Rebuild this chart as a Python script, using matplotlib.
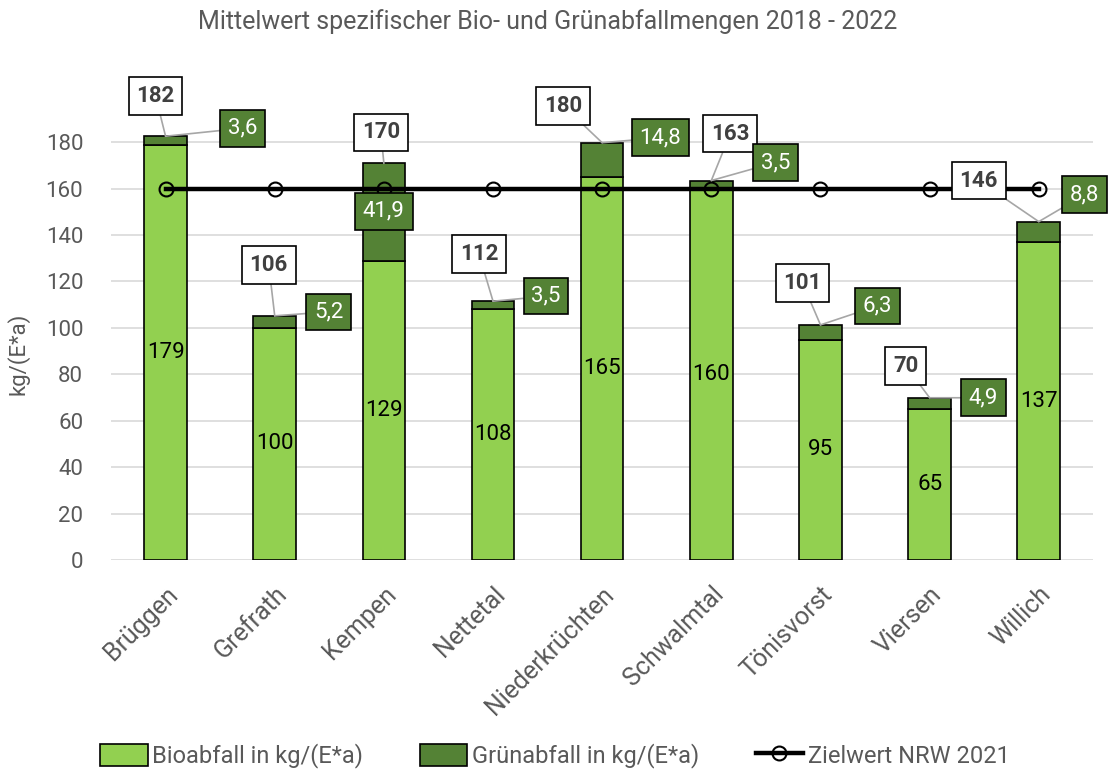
import numpy as np
import matplotlib.pyplot as plt
from matplotlib.patches import Patch
from matplotlib.lines import Line2D

plt.rcParams['font.family'] = ['Roboto', 'DejaVu Sans']

# data
staedte = ['Brüggen', 'Grefrath', 'Kempen', 'Nettetal', 'Niederkrüchten',
           'Schwalmtal', 'Tönisvorst', 'Viersen', 'Willich']
bio = [179, 100, 129, 108, 165, 160, 95, 65, 137]
gruen = [3.6, 5.2, 41.9, 3.5, 14.8, 3.5, 6.3, 4.9, 8.8]
gesamt = [182, 106, 170, 112, 180, 163, 101, 70, 146]
zielwert = [160] * 9
gruen_txt = ['3,6', '5,2', '41,9', '3,5', '14,8', '3,5', '6,3', '4,9', '8,8']

# label offsets (pixels) relative to top of bar
off_tot = [(-10, 40), (-6, 51), (-3, 31), (-14, 47), (-39, 37),
           (19, 47), (-18, 42), (-24, 32), (-60, 41)]
off_gr = [(77, 8), (54, 4), (0, -48), (53, 5), (58, 5),
          (64, 18), (57, 19), (54, 0), (46, 27)]

c_bio = '#92D050'
c_gruen = '#548235'
grau = '#595959'

fig = plt.figure(figsize=(11.1, 7.73), dpi=100)
ax = fig.add_axes([0.1, 0.2756, 0.885, 0.5914])

x = np.arange(len(staedte))
w = 0.39
ax.bar(x, bio, w, color=c_bio, edgecolor='black', linewidth=1.2, zorder=2)
ax.bar(x, gruen, w, bottom=bio, color=c_gruen, edgecolor='black', linewidth=1.2, zorder=2)
ax.plot(x, zielwert, color='black', lw=3.2, marker='o', ms=10, mfc='none',
        mec='black', mew=1.5, zorder=3)

ax.set_ylim(0, 197)
ax.set_xlim(-0.5, len(staedte) - 0.5)
ax.set_yticks(np.arange(0, 181, 20))
ax.yaxis.grid(True, color='#D9D9D9', lw=1.2)
ax.set_axisbelow(True)
for s in ax.spines.values():
    s.set_visible(False)
ax.tick_params(length=0)
ax.tick_params(axis='y', labelsize=16, labelcolor=grau, pad=20)
ax.set_xticks(x)
ax.set_xticklabels(staedte, rotation=45, ha='right', rotation_mode='anchor',
                   fontsize=18, color=grau)
ax.tick_params(axis='x', pad=16)
ax.set_ylabel('kg/(E*a)', fontsize=16, color=grau, labelpad=4)
ax.yaxis.set_label_coords(-0.083, 0.45)

px = 0.72  # points per pixel
for i in range(len(staedte)):
    top = bio[i] + gruen[i]
    ax.text(x[i], bio[i] / 2, str(bio[i]), ha='center', va='center',
            fontsize=16, color='black', zorder=4)
    ax.annotate(str(gesamt[i]), xy=(x[i], top),
                xytext=(off_tot[i][0] * px, off_tot[i][1] * px),
                textcoords='offset points', ha='center', va='center',
                fontsize=16, fontweight='bold', color='#404040',
                bbox=dict(boxstyle='square,pad=0.35', fc='white', ec='black', lw=1.2),
                arrowprops=dict(arrowstyle='-', color='#A6A6A6', lw=1.2,
                                shrinkA=0, shrinkB=0),
                zorder=5)
    arrow = None
    if off_gr[i][1] > 0 or abs(off_gr[i][0]) > 20:
        arrow = dict(arrowstyle='-', color='#A6A6A6', lw=1.2, shrinkA=0, shrinkB=0)
    ax.annotate(gruen_txt[i], xy=(x[i], top),
                xytext=(off_gr[i][0] * px, off_gr[i][1] * px),
                textcoords='offset points', ha='center', va='center',
                fontsize=16, color='white',
                bbox=dict(boxstyle='square,pad=0.35', fc=c_gruen, ec='black', lw=1.2),
                arrowprops=arrow, zorder=5)

fig.suptitle('Mittelwert spezifischer Bio- und Grünabfallmengen 2018 - 2022',
             x=0.493, y=0.988, fontsize=18, color=grau)

handles = [Patch(fc=c_bio, ec='black', lw=1.2),
           Patch(fc=c_gruen, ec='black', lw=1.2),
           Line2D([], [], color='black', lw=3.2, marker='o', ms=10, mfc='none', mew=1.5)]
labels = ['Bioabfall in kg/(E*a)', 'Grünabfall in kg/(E*a)', 'Zielwert NRW 2021']
fig.legend(handles, labels, loc='center', bbox_to_anchor=(0.5, 0.022), ncol=3,
           frameon=False, fontsize=17, labelcolor=grau, handlelength=2.0,
           handleheight=1.1, handletextpad=0.2, columnspacing=2.4)

plt.savefig('out.png', dpi=100)
